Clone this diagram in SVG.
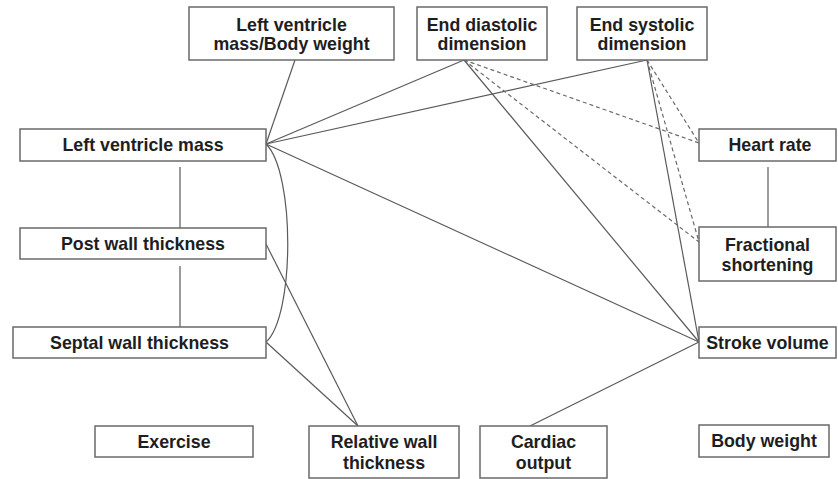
<svg xmlns="http://www.w3.org/2000/svg" width="838" height="479" viewBox="0 0 838 479">
<style>
.box{fill:#fff;stroke:#6a6a6a;stroke-width:1.5}
.t{font-family:"Liberation Sans",Arial,sans-serif;font-weight:bold;font-size:17.8px;fill:#1e1e1e;text-anchor:middle}
.c{fill:none;stroke:#5a5a5a;stroke-width:1.2}
.d{fill:none;stroke:#6a6a6a;stroke-width:1.2;stroke-dasharray:4,3}
</style>
<rect width="838" height="479" fill="#fff"/>
<g id="connectors">
<line class="c" x1="295" y1="60" x2="266" y2="144"/>
<line class="c" x1="464" y1="60" x2="266" y2="144"/>
<line class="c" x1="647" y1="60" x2="266" y2="144"/>
<line class="c" x1="266" y1="144" x2="699" y2="342"/>
<line class="c" x1="464" y1="60" x2="699" y2="342"/>
<line class="c" x1="647" y1="60" x2="699" y2="342"/>
<line class="d" x1="464" y1="60" x2="699" y2="143"/>
<line class="d" x1="464" y1="60" x2="699" y2="242"/>
<line class="d" x1="647" y1="60" x2="699" y2="143"/>
<line class="d" x1="647" y1="60" x2="699" y2="242"/>
<path class="c" d="M266,144 C295,172 295,316 266,342"/>
<line class="c" x1="180" y1="167" x2="180" y2="228"/>
<line class="c" x1="180" y1="266" x2="180" y2="327"/>
<line class="c" x1="768" y1="167" x2="768" y2="227"/>
<line class="c" x1="266" y1="244" x2="358" y2="426"/>
<line class="c" x1="266" y1="342" x2="358" y2="426"/>
<line class="c" x1="530" y1="426" x2="699" y2="342"/>
</g>
<g id="lvm_bw"><rect class="box" x="189" y="7" width="205" height="53"/><text class="t" x="291.5" y="31">Left ventricle</text><text class="t" x="291.5" y="50">mass/Body weight</text></g>
<g id="edd"><rect class="box" x="417" y="7" width="130" height="53"/><text class="t" x="482" y="31">End diastolic</text><text class="t" x="482" y="50">dimension</text></g>
<g id="esd"><rect class="box" x="577" y="7" width="130" height="53"/><text class="t" x="642" y="31">End systolic</text><text class="t" x="642" y="50">dimension</text></g>
<g id="lvm"><rect class="box" x="20" y="129" width="246" height="32"/><text class="t" x="143" y="151">Left ventricle mass</text></g>
<g id="pwt"><rect class="box" x="20" y="228" width="246" height="31"/><text class="t" x="143" y="250">Post wall thickness</text></g>
<g id="swt"><rect class="box" x="13" y="327" width="253" height="31"/><text class="t" x="139.5" y="349">Septal wall thickness</text></g>
<g id="hr"><rect class="box" x="699" y="129" width="137" height="32"/><text class="t" x="770" y="151">Heart rate</text></g>
<g id="fs"><rect class="box" x="699" y="227" width="137" height="54"/><text class="t" x="767.5" y="251">Fractional</text><text class="t" x="767.5" y="271">shortening</text></g>
<g id="sv"><rect class="box" x="699" y="327" width="137" height="31"/><text class="t" x="767.5" y="349">Stroke volume</text></g>
<g id="ex"><rect class="box" x="95" y="426" width="158" height="31"/><text class="t" x="174" y="448">Exercise</text></g>
<g id="rwt"><rect class="box" x="309" y="426" width="150" height="52"/><text class="t" x="384" y="448">Relative wall</text><text class="t" x="384" y="469">thickness</text></g>
<g id="co"><rect class="box" x="480" y="426" width="127" height="52"/><text class="t" x="543.5" y="448">Cardiac</text><text class="t" x="543.5" y="469">output</text></g>
<g id="bw"><rect class="box" x="699" y="425" width="130" height="32"/><text class="t" x="764" y="447">Body weight</text></g>
</svg>
